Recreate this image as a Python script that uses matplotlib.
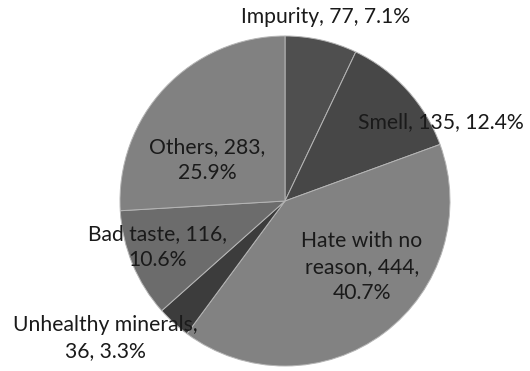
import matplotlib

matplotlib.use("Agg")
import matplotlib.pyplot as plt

# complaint categories, counts, clockwise from 12 o'clock
categories = ["Impurity", "Smell", "Hate with no reason", "Unhealthy minerals",
              "Bad taste", "Others"]
counts = [77, 135, 444, 36, 116, 283]
shades = ["#4f4f4f", "#474747", "#828282", "#3c3c3c", "#6c6c6c", "#818181"]

# label text with wrapping, and label centres in pixel coords
label_fmt = ["{c}, {n}, {p}", "{c}, {n}, {p}", "Hate with no\nreason, {n},\n{p}",
             "Unhealthy minerals,\n{n}, {p}", "{c}, {n},\n{p}", "{c}, {n},\n{p}"]
label_xy = [(326, 17), (441, 122), (362, 267), (105, 338), (158, 247), (207, 160)]

W, H = 530, 371
plt.rcParams["font.family"] = ["Lato", "DejaVu Sans"]

fig = plt.figure(figsize=(W / 100, H / 100), dpi=100)
ax = fig.add_axes([0, 0, 1, 1])

ax.pie(counts, colors=shades, startangle=90, counterclock=False,
       center=(285, -201), radius=165, frame=True,
       wedgeprops=dict(edgecolor="#b5b5b5", linewidth=0.7))
ax.set_xlim(0, W)
ax.set_ylim(-H, 0)
ax.set_aspect("equal")
ax.axis("off")

total = sum(counts)
for cat, n, fmt, (x, y) in zip(categories, counts, label_fmt, label_xy):
    pct = f"{100 * n / total:.1f}%"
    ax.text(x, -y, fmt.format(c=cat, n=n, p=pct), ha="center", va="center",
            fontsize=15.2, color="#1a1a1a", linespacing=1.38)

fig.savefig("out.png", dpi=100)
